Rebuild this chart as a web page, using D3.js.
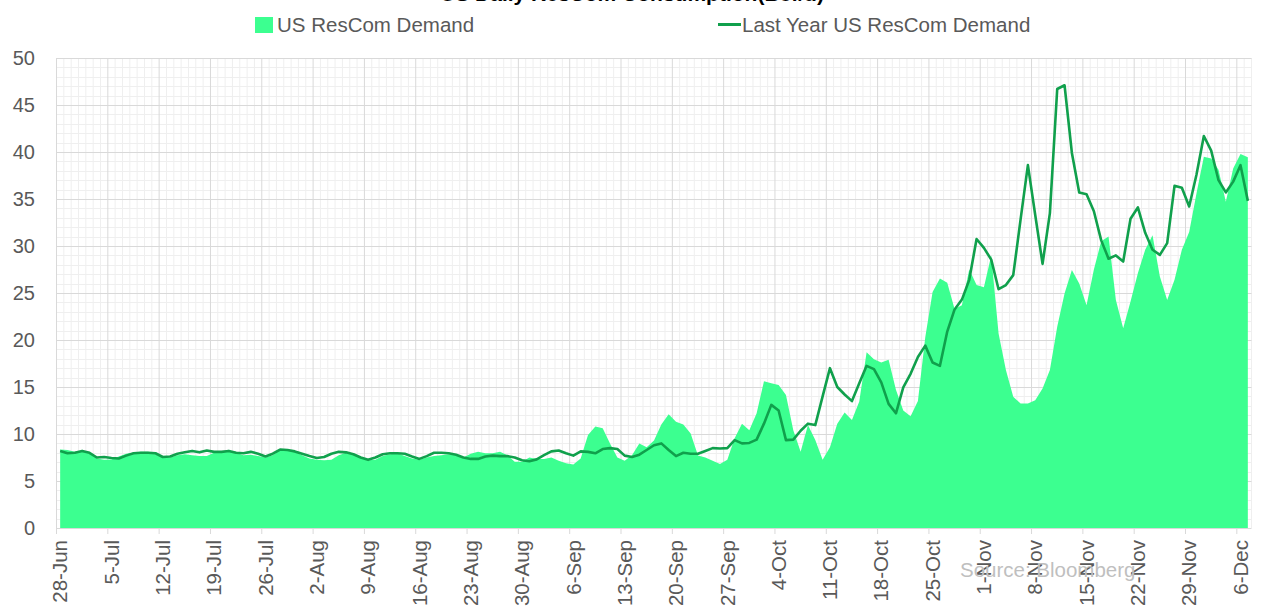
<!DOCTYPE html>
<html><head><meta charset="utf-8">
<script src="https://cdn.jsdelivr.net/npm/d3@7"></script>
<style>body{margin:0;background:#fff}svg{display:block;font-family:"Liberation Sans",Arial,sans-serif}</style>
</head><body><svg id="c" width="1262" height="615"></svg>
<script>
const seriesNames = ["US ResCom Demand", "Last Year US ResCom Demand"];
const current = [
8.35,8.3,8.1,8.1,7.95,7.4,7.25,7.3,7.6,7.9,
8.0,8.1,8.1,7.85,7.5,7.5,7.75,7.85,7.75,7.65,
7.65,8.0,8.2,8.15,8.0,7.75,7.8,7.65,7.5,7.75,
8.3,8.35,8.1,7.75,7.4,7.25,7.2,7.25,7.75,8.0,
7.85,7.5,7.2,7.25,7.65,7.85,7.95,7.65,7.4,7.25,
7.5,7.65,7.75,7.85,7.75,7.5,7.9,8.1,7.95,7.95,
8.1,7.75,7.05,7.05,7.5,7.35,7.35,7.5,7.15,6.9,
6.75,7.4,9.9,10.8,10.6,9.0,7.5,7.15,7.75,9.0,
8.6,9.3,11.0,12.1,11.3,11.0,10.05,7.7,7.5,7.15,
6.8,7.25,9.55,11.1,10.4,12.2,15.6,15.4,15.2,14.15,
10.4,8.1,10.95,9.35,7.25,8.6,11.1,12.3,11.5,13.45,
18.7,17.95,17.6,17.9,14.7,12.5,11.9,13.5,20.3,25.1,
26.55,26.1,23.3,23.7,27.5,25.85,25.6,29.0,20.7,16.8,
13.95,13.25,13.25,13.6,14.85,16.8,21.4,24.95,27.45,26.0,
23.7,27.5,30.5,31.0,24.25,21.25,24.1,27.1,29.6,31.15,
26.75,24.25,26.4,29.6,31.5,35.6,39.5,39.3,38.1,34.7,
38.25,39.8,39.45
];
const lastYear = [
8.2,7.95,8.0,8.2,8.0,7.5,7.55,7.45,7.4,7.7,
7.95,8.0,8.0,7.95,7.55,7.6,7.9,8.05,8.2,8.05,
8.25,8.1,8.1,8.2,8.0,7.95,8.1,7.9,7.6,7.9,
8.35,8.3,8.15,7.9,7.65,7.45,7.55,7.9,8.1,8.05,
7.85,7.5,7.25,7.5,7.85,7.95,7.95,7.9,7.6,7.35,
7.65,8.0,8.0,7.95,7.8,7.5,7.35,7.35,7.6,7.7,
7.65,7.65,7.5,7.2,7.1,7.3,7.75,8.15,8.25,7.95,
7.7,8.15,8.1,7.95,8.4,8.5,8.4,7.7,7.55,7.8,
8.3,8.8,9.0,8.3,7.65,8.0,7.9,7.9,8.2,8.5,
8.45,8.5,9.35,9.0,9.05,9.4,11.1,13.1,12.5,9.35,
9.4,10.35,11.1,10.95,14.0,17.0,15.0,14.2,13.5,15.4,
17.25,16.9,15.5,13.2,12.2,14.95,16.4,18.2,19.4,17.6,
17.25,20.9,23.25,24.3,26.4,30.75,29.8,28.55,25.4,25.85,
26.9,32.8,38.6,33.3,28.1,33.5,46.7,47.1,39.9,35.7,
35.5,33.7,30.6,28.65,29.0,28.35,32.9,34.1,31.4,29.6,
29.05,30.3,36.4,36.2,34.2,37.6,41.7,40.15,37.0,35.7,
36.85,38.6,34.8
];
const tickLabels = ["28-Jun","5-Jul","12-Jul","19-Jul","26-Jul","2-Aug","9-Aug","16-Aug","23-Aug","30-Aug","6-Sep","13-Sep","20-Sep","27-Sep","4-Oct","11-Oct","18-Oct","25-Oct","1-Nov","8-Nov","15-Nov","22-Nov","29-Nov","6-Dec"];
const yTicks = [0,5,10,15,20,25,30,35,40,45,50];
const title = "US Daily ResCom Consumption(Bcf/d)";
const source = "Source: Bloomberg";

(function () {
const svg = d3.select("#c");
const pL = 56.5, pR = 1251.5, pT = 58, pB = 528;
const n = current.length;
const idx = d3.range(n);
const x = d3.scaleBand().domain(idx).range([pL, pR]).padding(0);
const bw = x.bandwidth();
const cx = i => x(i) + bw / 2;
const y = d3.scaleLinear().domain([0, 50]).range([pB, pT]);
const xEdge = i => i < n ? x(i) : pR;

const areaColor = "#3cff90", lineColor = "#10a04c", txt = "#595959";

const g = svg.append("g");
g.selectAll(".mh").data(d3.range(0, 51).filter(v => v % 5 !== 0)).join("line")
  .attr("x1", pL).attr("x2", pR).attr("y1", d => Math.round(y(d)) + 0.5).attr("y2", d => Math.round(y(d)) + 0.5)
  .attr("stroke", "#efefef").attr("stroke-width", 1);
g.selectAll(".mv").data(d3.range(0, n + 1).filter(i => i % 7 !== 0)).join("line")
  .attr("x1", xEdge).attr("x2", xEdge)
  .attr("y1", pT).attr("y2", pB)
  .attr("stroke", "#efefef").attr("stroke-width", 1);
g.selectAll(".Mh").data(yTicks.filter(v => v > 0)).join("line")
  .attr("x1", pL).attr("x2", pR).attr("y1", d => Math.round(y(d)) + 0.5).attr("y2", d => Math.round(y(d)) + 0.5)
  .attr("stroke", "#d9d9d9").attr("stroke-width", 1);
g.selectAll(".Mv").data(d3.range(0, n, 7)).join("line")
  .attr("x1", i => x(i)).attr("x2", i => x(i))
  .attr("y1", pT).attr("y2", pB)
  .attr("stroke", "#d9d9d9").attr("stroke-width", 1);

svg.append("path").datum(idx)
  .attr("d", d3.area().x(i => cx(i)).y0(y(0)).y1(i => y(current[i])))
  .attr("fill", areaColor);
svg.append("path").datum(idx)
  .attr("d", d3.line().x(i => cx(i)).y(i => y(lastYear[i])))
  .attr("fill", "none").attr("stroke", lineColor).attr("stroke-width", 2.6).attr("stroke-linejoin", "round");

svg.append("line").attr("x1", pL).attr("x2", pR).attr("y1", pB + 0.5).attr("y2", pB + 0.5)
  .attr("stroke", "#d9d9d9");
svg.selectAll(".xt").data(d3.range(0, n, 7)).join("line")
  .attr("x1", i => x(i)).attr("x2", i => x(i)).attr("y1", pB).attr("y2", pB + 6)
  .attr("stroke", "#d9d9d9");
svg.selectAll(".xl").data(tickLabels).join("text")
  .attr("transform", (d, k) => `translate(${cx(k * 7)},${pB + 12}) rotate(-90)`)
  .attr("text-anchor", "end").attr("dy", "0.35em")
  .attr("font-size", 20.5).attr("fill", txt).text(d => d);

svg.selectAll(".yl").data(yTicks).join("text")
  .attr("x", 35).attr("y", d => y(d)).attr("dy", "0.35em")
  .attr("text-anchor", "end").attr("font-size", 20).attr("fill", txt).text(d => d);

svg.append("text").attr("x", 632).attr("y", 1).attr("text-anchor", "middle")
  .attr("font-size", 21).attr("font-weight", "bold").attr("fill", "#000").text(title);

svg.append("rect").attr("x", 255).attr("y", 17).attr("width", 18).attr("height", 16).attr("fill", areaColor);
svg.append("text").attr("x", 277).attr("y", 32).attr("font-size", 20.5).attr("fill", txt).text(seriesNames[0]);
svg.append("line").attr("x1", 718).attr("x2", 741).attr("y1", 24.5).attr("y2", 24.5)
  .attr("stroke", lineColor).attr("stroke-width", 3);
svg.append("text").attr("x", 742).attr("y", 32).attr("font-size", 20.5).attr("fill", txt).text(seriesNames[1]);

svg.append("text").attr("x", 960).attr("y", 577).attr("font-size", 20.5).attr("fill", "#bfbfbf").text(source);
})();
</script></body></html>
